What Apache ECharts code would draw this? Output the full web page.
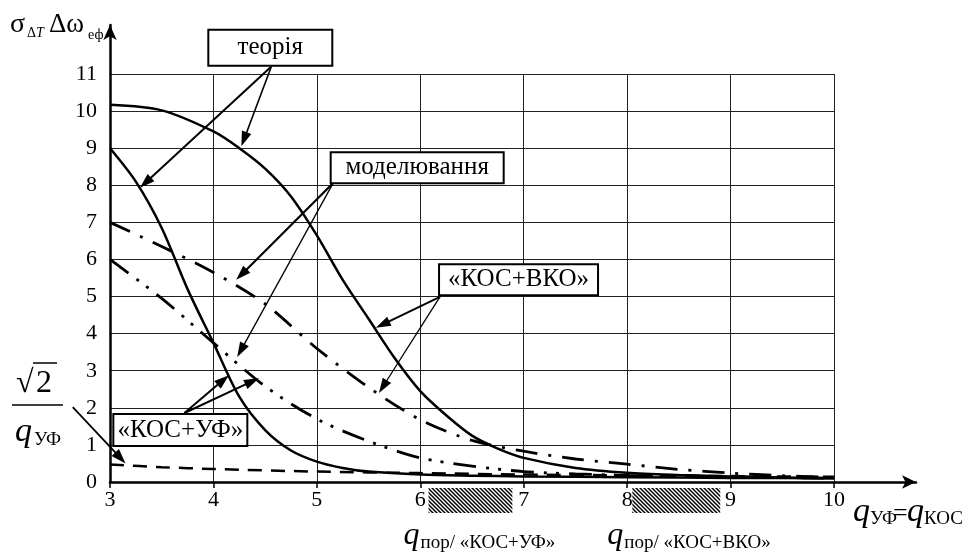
<!DOCTYPE html>
<html><head><meta charset="utf-8">
<script src="https://cdn.jsdelivr.net/npm/echarts@6/dist/echarts.min.js"></script>
<style>html,body{margin:0;padding:0;background:#fff}#c{width:972px;height:553px}</style>
</head><body><div id="c"></div>
<script>
// ---- data ----
const xTicks = [3, 4, 5, 6, 7, 8, 9, 10];
const yTicks = [0, 1, 2, 3, 4, 5, 6, 7, 8, 9, 10, 11];

const theoryUF_x = [3, 3.25, 3.5, 3.75, 4, 4.25, 4.5, 4.75, 5, 5.25, 5.5, 6, 6.5, 7, 8, 9, 10];
const theoryUF_y = [9.0, 8.1, 6.85, 5.2, 3.75, 2.3, 1.4, 0.85, 0.55, 0.38, 0.28, 0.2, 0.17, 0.15, 0.13, 0.11, 0.1];

const theoryVKO_x = [3, 3.5, 4, 4.25, 4.5, 4.75, 5, 5.25, 5.5, 5.75, 6, 6.25, 6.5, 6.75, 7, 7.5, 8, 8.5, 9, 9.5, 10];
const theoryVKO_y = [10.17, 10.02, 9.45, 9.0, 8.45, 7.7, 6.65, 5.45, 4.4, 3.35, 2.45, 1.8, 1.25, 0.9, 0.65, 0.38, 0.25, 0.19, 0.15, 0.12, 0.1];

const modelVKO_x = [3, 3.5, 4, 4.5, 5, 5.5, 6, 6.5, 7, 7.5, 8, 8.5, 9, 9.5, 10];
const modelVKO_y = [7.0, 6.35, 5.65, 4.8, 3.6, 2.55, 1.68, 1.12, 0.83, 0.62, 0.48, 0.34, 0.24, 0.17, 0.12];

const modelUF_x = [3, 3.5, 4, 4.5, 5, 5.5, 6, 6.5, 7, 7.5, 8, 9, 10];
const modelUF_y = [6.0, 4.95, 3.75, 2.58, 1.7, 1.1, 0.65, 0.43, 0.28, 0.22, 0.18, 0.14, 0.1];

const sqrt2q_x = [3, 3.5, 4, 5, 6, 7, 8, 9, 10];
const sqrt2q_y = [0.47, 0.4, 0.35, 0.28, 0.24, 0.2, 0.18, 0.16, 0.14];

// threshold ranges (hatched bars under the x axis)
const thresholdRanges = [[6.08, 6.89], [8.05, 8.9]];
const thresholdLabels = ['пор/ «КОС+УФ»', 'пор/ «КОС+ВКО»'];

// annotation boxes (data coordinates)
const noteLabels = ['теорія', 'моделювання', '«КОС+ВКО»', '«КОС+УФ»'];
const noteCenters = [[4.55, 11.71], [5.97, 8.47], [6.95, 5.45], [3.68, 1.40]];
const noteArrowStart = [[4.56, 11.2], [5.16, 8.07], [6.19, 4.99], [3.72, 1.86]];
const noteArrowTargets = [
  [[3.29, 7.93], [4.27, 9.05]],
  [[4.22, 5.45], [4.23, 3.37]],
  [[5.57, 4.16], [5.6, 2.4]],
  [[4.15, 2.88], [4.44, 2.8]]
];
const sqrtArrowStart = [2.64, 2.02];
const sqrtArrowTarget = [3.15, 0.5];

// ---- chart ----
const FONT = '"Liberation Serif", "Times New Roman", serif';
const pairs = (xs, ys) => xs.map((x, i) => [x, ys[i]]);
const chart = echarts.init(document.getElementById('c'), null, {renderer: 'canvas'});

function lineSeries(name, xs, ys, type, width) {
  return {
    name, type: 'line', xAxisIndex: 0, yAxisIndex: 0,
    data: pairs(xs, ys), symbol: 'none', smooth: 0.3,
    lineStyle: {color: '#000', width: width, type: type, cap: 'butt'},
    z: 5
  };
}

chart.setOption({
  animation: false,
  backgroundColor: '#fff',
  grid: [
    {left: 110, right: 138, top: 74, bottom: 71},
    {left: 110, right: 56, top: 25, bottom: 71}
  ],
  xAxis: [
    {type: 'value', gridIndex: 0, min: xTicks[0], max: xTicks[xTicks.length - 1], interval: 1,
     axisLine: {show: false},
     axisTick: {show: true, length: 6, lineStyle: {color: '#000', width: 1.5}},
     axisLabel: {color: '#000', fontSize: 22, fontFamily: FONT, margin: 7},
     splitLine: {show: true, lineStyle: {color: '#222', width: 1}}},
    {type: 'value', gridIndex: 1, min: 0, max: 1,
     axisLine: {show: true, symbol: ['none', 'arrow'], symbolSize: [10, 14], lineStyle: {color: '#000', width: 2.5}},
     axisTick: {show: false}, axisLabel: {show: false}, splitLine: {show: false}}
  ],
  yAxis: [
    {type: 'value', gridIndex: 0, min: yTicks[0], max: yTicks[yTicks.length - 1], interval: 1,
     axisLine: {show: false}, axisTick: {show: false},
     axisLabel: {color: '#000', fontSize: 22, fontFamily: FONT, margin: 13},
     splitLine: {show: true, lineStyle: {color: '#222', width: 1}}},
    {type: 'value', gridIndex: 1, min: 0, max: 1,
     axisLine: {show: true, symbol: ['none', 'arrow'], symbolSize: [10, 15], lineStyle: {color: '#000', width: 2.5}},
     axisTick: {show: false}, axisLabel: {show: false}, splitLine: {show: false}}
  ],
  series: [
    lineSeries('теорія «КОС+УФ»', theoryUF_x, theoryUF_y, 'solid', 2.5),
    lineSeries('теорія «КОС+ВКО»', theoryVKO_x, theoryVKO_y, 'solid', 2.5),
    lineSeries('моделювання «КОС+ВКО»', modelVKO_x, modelVKO_y, [22, 11, 3, 11], 2.8),
    lineSeries('моделювання «КОС+УФ»', modelUF_x, modelUF_y, [23, 10, 3, 9, 3, 10], 2.8),
    lineSeries('√2/q', sqrt2q_x, sqrt2q_y, [14, 9], 2.5)
  ]
});

function px(p) { return chart.convertToPixel({xAxisIndex: 0, yAxisIndex: 0}, p); }

function arrow(a, b, w, headLen, headW) {
  const dx = b[0] - a[0], dy = b[1] - a[1], L = Math.hypot(dx, dy), ux = dx / L, uy = dy / L;
  const bx = b[0] - ux * headLen, by = b[1] - uy * headLen;
  return [
    {type: 'line', z: 20, shape: {x1: a[0], y1: a[1], x2: bx + ux * 2, y2: by + uy * 2}, style: {stroke: '#000', lineWidth: w}},
    {type: 'polygon', z: 20, shape: {points: [[b[0], b[1]], [bx - uy * headW / 2, by + ux * headW / 2], [bx + uy * headW / 2, by - ux * headW / 2]]}, style: {fill: '#000'}}
  ];
}

function txt(s, x, baseline, size, italic, align) {
  return {type: 'text', z: 30, x: x, y: baseline - size * 0.3,
    style: {text: s, fill: '#000', font: (italic ? 'italic ' : '') + size + 'px ' + FONT,
      align: align || 'left', verticalAlign: 'middle'}};
}

const g = [];
// annotation boxes + arrows
const boxSizes = [[124, 36], [173, 31], [159, 31], [134, 32]];
const arrowWidths = [[2, 1.6], [2.2, 1.3], [2, 1.3], [2, 2]];
noteLabels.forEach((lab, i) => {
  const c = px(noteCenters[i]);
  const [w, h] = boxSizes[i];
  g.push({type: 'rect', z: 25, shape: {x: c[0] - w / 2, y: c[1] - h / 2, width: w, height: h},
    style: {fill: '#fff', stroke: '#000', lineWidth: 2}});
  g.push({type: 'text', z: 26, x: c[0], y: c[1], style: {text: lab, fill: '#000', font: '25px ' + FONT, align: 'center', verticalAlign: 'middle'}});
  const s = px(noteArrowStart[i]);
  noteArrowTargets[i].forEach((t, j) => { g.push(...arrow(s, px(t), arrowWidths[i][j], 15, 10)); });
});
g.push(...arrow(px(sqrtArrowStart), px(sqrtArrowTarget), 1.8, 15, 10));

// hatched threshold bars
const pc = document.createElement('canvas'); pc.width = 4; pc.height = 4;
const cx = pc.getContext('2d');
cx.fillStyle = '#fff'; cx.fillRect(0, 0, 4, 4);
cx.strokeStyle = '#000'; cx.lineWidth = 1.5;
cx.beginPath(); cx.moveTo(-1, -1); cx.lineTo(5, 5); cx.moveTo(-1, 3); cx.lineTo(1, 5); cx.moveTo(3, -1); cx.lineTo(5, 1); cx.stroke();
const axisY = px([3, 0])[1];
thresholdRanges.forEach((r, i) => {
  const a = px([r[0], 0]), b = px([r[1], 0]);
  g.push({type: 'rect', z: 10, shape: {x: a[0], y: axisY + 6, width: b[0] - a[0], height: 25},
    style: {fill: {image: pc, repeat: 'repeat'}}});
  const lx = a[0] - 25;
  g.push(txt('q', lx, 545, 32, true));
  g.push(txt(thresholdLabels[i], lx + 17, 549, 19, false));
});

// y axis title  σ_ΔT Δω_еф
g.push(txt('σ', 10, 33, 28, false));
g.push(txt('Δ', 27, 38, 14, false));
g.push(txt('T', 36, 38, 14, true));
g.push(txt('Δω', 49, 33, 27, false));
g.push(txt('еф', 88, 40, 14, false));

// x axis title  q_УФ = q_КОС
g.push(txt('q', 853, 522, 34, true));
g.push(txt('УФ', 870, 525, 19, false));
g.push(txt('=', 893, 522, 26, false));
g.push(txt('q', 907, 522, 34, true));
g.push(txt('КОС', 924, 525, 19, false));

// √2 / q_УФ label
g.push(txt('√', 16, 393, 32, false));
g.push(txt('2', 36, 393, 32, false));
g.push({type: 'line', z: 30, shape: {x1: 33, y1: 363, x2: 57, y2: 363}, style: {stroke: '#000', lineWidth: 1.5}});
g.push({type: 'line', z: 30, shape: {x1: 12, y1: 405, x2: 63, y2: 405}, style: {stroke: '#000', lineWidth: 1.5}});
g.push(txt('q', 15, 442, 34, true));
g.push(txt('УФ', 34, 446, 19, false));

chart.setOption({graphic: g});
</script>
</body></html>
